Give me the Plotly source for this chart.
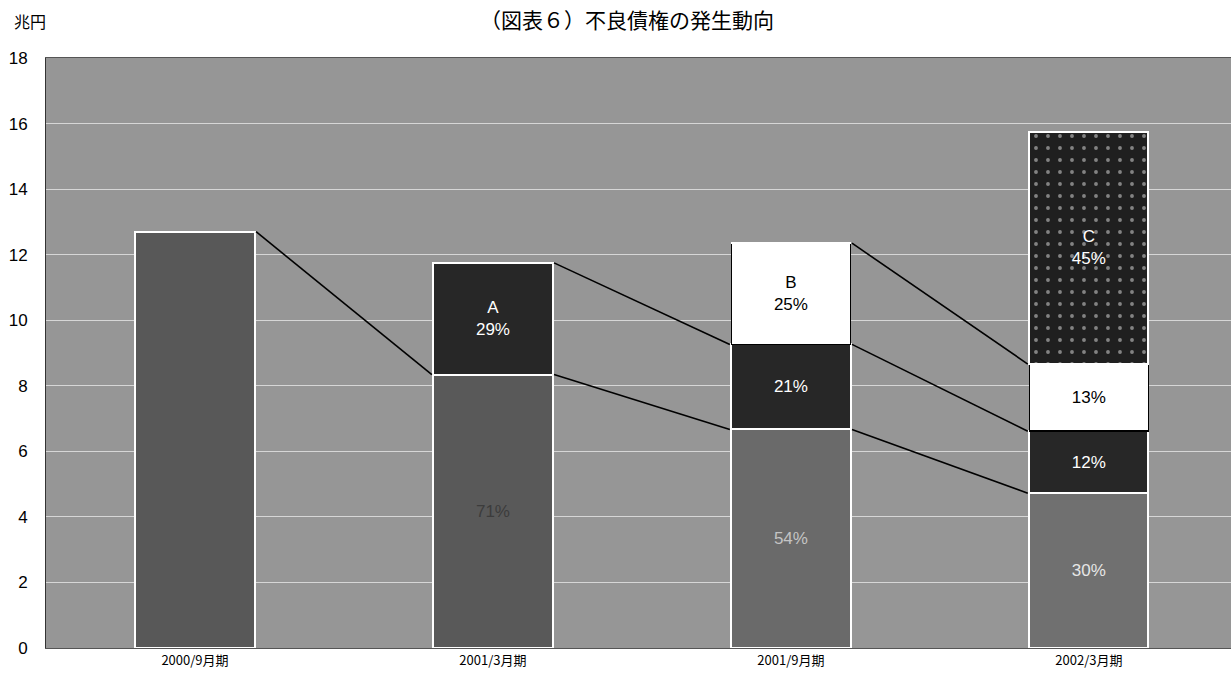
import plotly.graph_objects as go

# Periods and totals of bad loans (兆円)
periods = ["2000/9月期", "2001/3月期", "2001/9月期", "2002/3月期"]
totals = [12.7, 11.75, 12.35, 15.75]

# Share of each period's total by origin cohort (%)
pct_base = [100, 71, 54, 30]   # already outstanding at 2000/9
pct_a = [0, 29, 21, 12]        # newly arisen in 2001/3 (A)
pct_b = [0, 0, 25, 13]         # newly arisen in 2001/9 (B)
pct_c = [0, 0, 0, 45]          # newly arisen in 2002/3 (C)

y_ticks = list(range(0, 19, 2))

xs = list(range(len(periods)))
bar_w = 0.4


def seg(pcts):
    return [t * p / 100 for t, p in zip(totals, pcts)]


base = seg(pct_base)
a = seg(pct_a)
b = seg(pct_b)
c = seg(pct_c)

fig = go.Figure()

text_font = dict(family="Liberation Sans Narrow, Liberation Sans, Arial, sans-serif", size=17)

fig.add_trace(go.Bar(
    x=xs, y=base, width=bar_w,
    marker=dict(color=["#585858", "#595959", "#6a6a6a", "#707070"],
                line=dict(color="white", width=2)),
    text=["", "71%", "54%", "30%"],
    textfont=dict(text_font, color=["#555", "#3c3c3c", "#c4c4c4", "#e6e6e6"]),
    textposition="inside", insidetextanchor="middle", textangle=0,
    hoverinfo="skip", showlegend=False,
))
fig.add_trace(go.Bar(
    x=xs, y=a, width=bar_w,
    marker=dict(color="#272727", line=dict(color="white", width=2)),
    text=["", "A<br>29%", "21%", "12%"],
    textfont=dict(text_font, color="white"),
    textposition="inside", insidetextanchor="middle", textangle=0,
    hoverinfo="skip", showlegend=False,
))
fig.add_trace(go.Bar(
    x=xs, y=b, width=bar_w,
    marker=dict(color="white", line=dict(color="black", width=1.5)),
    text=["", "", "B<br>25%", "13%"],
    textfont=dict(text_font, color="black"),
    textposition="inside", insidetextanchor="middle", textangle=0,
    hoverinfo="skip", showlegend=False,
))
fig.add_trace(go.Bar(
    x=xs, y=c, width=bar_w,
    marker=dict(color="#1f1f1f", line=dict(color="white", width=2),
                pattern=dict(shape=".", fgcolor="#e8e8e8", bgcolor="#1f1f1f",
                             size=12, solidity=0.08)),
    text=["", "", "", "C<br>45%"],
    textfont=dict(text_font, color="white"),
    textposition="inside", insidetextanchor="middle", textangle=0,
    hoverinfo="skip", showlegend=False,
))

# Connector lines tracing each cohort from one period to the next
layers = [base, a, b, c]
for i in range(len(periods) - 1):
    cum_prev = 0
    cum_next = 0
    for layer in layers:
        cum_prev += layer[i]
        cum_next += layer[i + 1]
        if layer[i] > 0 and layer[i + 1] > 0:
            fig.add_trace(go.Scatter(
                x=[xs[i] + bar_w / 2 + 0.005, xs[i + 1] - bar_w / 2 - 0.005],
                y=[cum_prev, cum_next],
                mode="lines", line=dict(color="black", width=1.6),
                hoverinfo="skip", showlegend=False,
            ))

fig.update_layout(
    width=1231, height=678,
    margin=dict(l=46, r=0, t=58, b=30),
    barmode="stack",
    paper_bgcolor="white",
    plot_bgcolor="#969696",
    font=dict(family="Noto Sans CJK JP, sans-serif", color="black"),
    xaxis=dict(
        range=[-0.5, 3.477], tickvals=xs, ticktext=periods,
        tickfont=dict(size=13, family="Noto Sans CJK JP"),
        showgrid=False, zeroline=False, ticks="",
        showline=True, linecolor="#555", linewidth=1, mirror=True,
    ),
    yaxis=dict(
        range=[0, 18], tickvals=y_ticks,
        tickfont=dict(size=17, family="Liberation Sans, Arial"),
        showgrid=True, gridcolor="#d6d6d6", gridwidth=1,
        zeroline=False, ticks="", ticklabelstandoff=14,
        showline=True, linecolor="#333", linewidth=1, mirror=True,
    ),
    annotations=[
        dict(text="（図表６）不良債権の発生動向", xref="paper", yref="paper",
             x=0.49, y=1.066, xanchor="center", yanchor="middle",
             showarrow=False, font=dict(size=21, family="Noto Sans CJK JP")),
        dict(text="兆円", xref="paper", yref="paper",
             x=-0.029, y=1.062, xanchor="left", yanchor="middle",
             showarrow=False, font=dict(size=16, family="Noto Sans CJK JP")),
    ],
)

fig.write_html("out.html")
